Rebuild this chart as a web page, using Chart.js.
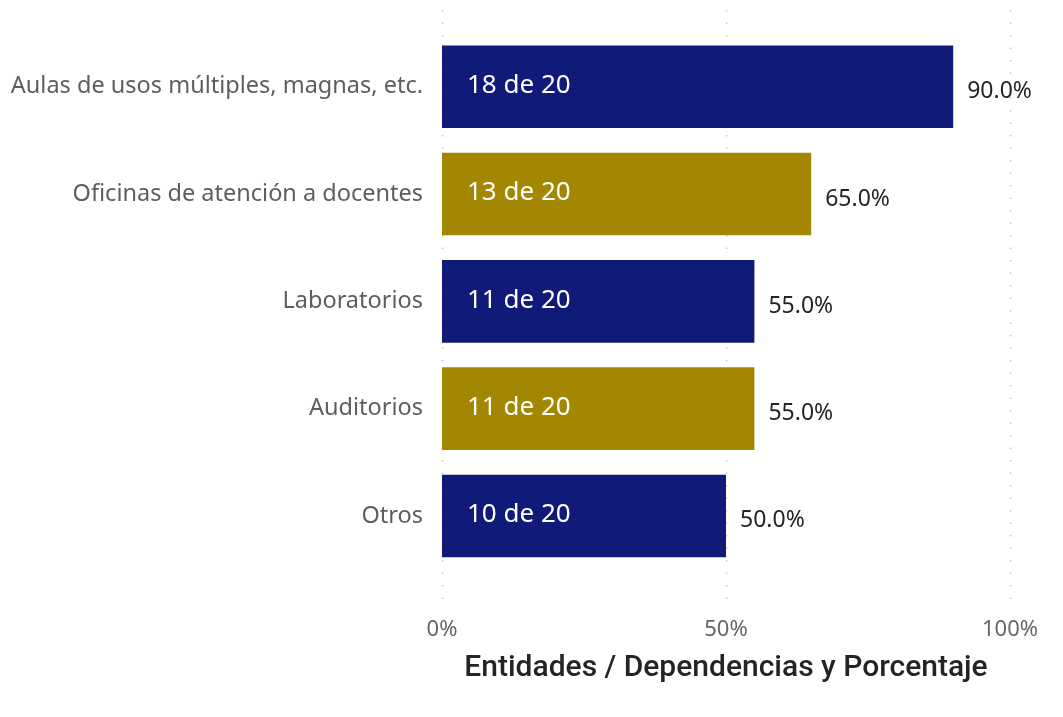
<!DOCTYPE html>
<html>
<head>
<meta charset="utf-8">
<script src="https://cdn.jsdelivr.net/npm/chart.js@4"></script>
<style>
  html, body { margin: 0; padding: 0; background: #ffffff; }
  #wrap { width: 1063px; height: 717px; }
</style>
</head>
<body>
<div id="wrap"><canvas id="chart" width="1063" height="717"></canvas></div>
<script>
// categorias y valores
const categories = [
  'Aulas de usos múltiples, magnas, etc.',
  'Oficinas de atención a docentes',
  'Laboratorios',
  'Auditorios',
  'Otros'
];
const counts = [18, 13, 11, 11, 10];
const totals = [20, 20, 20, 20, 20];
const percents = [90.0, 65.0, 55.0, 55.0, 50.0];
const xTicks = [0, 50, 100];

const NAVY = '#101A78';
const GOLD = '#A38700';
const barColors = [NAVY, GOLD, NAVY, GOLD, NAVY];

// lineas punteadas verticales, algo mas largas que el area del grafico
const dottedGrid = {
  id: 'dottedGrid',
  beforeDatasetsDraw(chart) {
    const ctx = chart.ctx;
    const xs = chart.scales.x;
    ctx.save();
    ctx.strokeStyle = '#c6c6c6';
    ctx.lineWidth = 1.5;
    ctx.setLineDash([1.5, 11]);
    xTicks.forEach(v => {
      const x = Math.round(xs.getPixelForValue(v)) + 0.5;
      ctx.beginPath();
      ctx.moveTo(x, 10);
      ctx.lineTo(x, 600);
      ctx.stroke();
    });
    ctx.restore();
  }
};

// etiquetas: "n de 20" dentro y porcentaje fuera
const barLabels = {
  id: 'barLabels',
  afterDatasetsDraw(chart) {
    const ctx = chart.ctx;
    const meta = chart.getDatasetMeta(0);
    ctx.save();
    meta.data.forEach((bar, i) => {
      ctx.textBaseline = 'middle';
      ctx.textAlign = 'left';
      ctx.font = '26px "Noto Sans"';
      ctx.fillStyle = '#ffffff';
      ctx.fillText(counts[i] + ' de ' + totals[i], bar.base + 25, bar.y - 1);
      ctx.font = '23px "Noto Sans"';
      ctx.fillStyle = '#252423';
      ctx.fillText(percents[i].toFixed(1) + '%', bar.x + 14, bar.y + 5);
    });
    ctx.restore();
  }
};

new Chart(document.getElementById('chart'), {
  type: 'bar',
  data: {
    labels: categories,
    datasets: [{
      data: percents,
      backgroundColor: barColors,
      borderWidth: 0,
      categoryPercentage: 1,
      barPercentage: 0.77
    }]
  },
  options: {
    indexAxis: 'y',
    responsive: false,
    animation: false,
    layout: { padding: { top: 33, right: 53, bottom: 34, left: 0 } },
    plugins: {
      legend: { display: false },
      tooltip: { enabled: false }
    },
    scales: {
      x: {
        min: 0,
        max: 100,
        afterBuildTicks(axis) { axis.ticks = xTicks.map(v => ({ value: v })); },
        // el padding de ticks no debe empujar el borde derecho
        afterFit(axis) { axis.paddingRight = 0; },
        grid: { display: false, drawTicks: false },
        border: { display: false },
        ticks: {
          padding: 47,
          color: '#666666',
          font: { family: 'Noto Sans', size: 22 },
          callback: v => v + '%'
        },
        title: {
          display: true,
          text: 'Entidades / Dependencias y Porcentaje',
          color: '#252423',
          font: { family: 'Roboto', size: 30, weight: '500' },
          padding: { top: -40, bottom: -3 }
        }
      },
      y: {
        afterFit(axis) { axis.width = 442; },
        grid: { display: false, drawTicks: false },
        border: { display: false },
        ticks: {
          padding: 19,
          color: '#605E5C',
          font: { family: 'Noto Sans', size: 23.5 }
        }
      }
    }
  },
  plugins: [dottedGrid, barLabels]
});
</script>
</body>
</html>
